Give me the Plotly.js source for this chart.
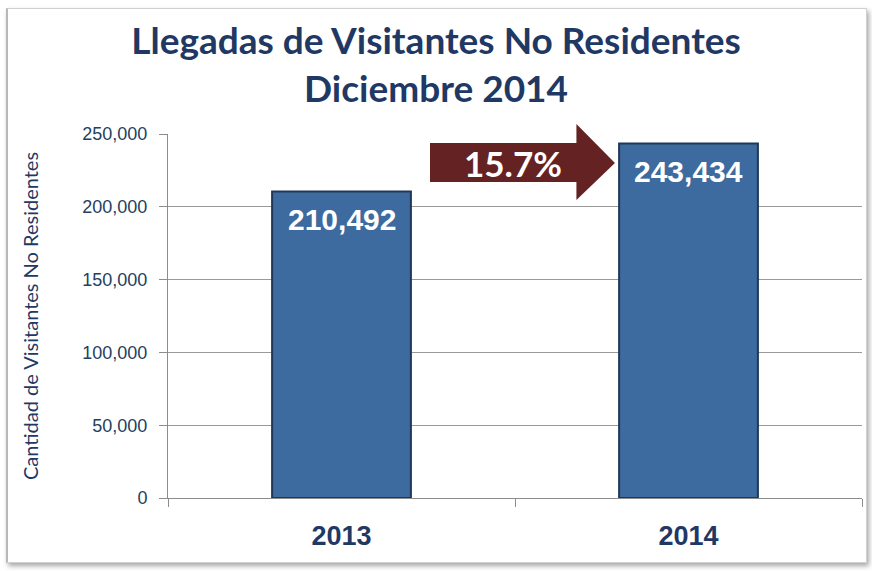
<!DOCTYPE html>
<html>
<head>
<meta charset="utf-8">
<script src="https://cdn.plot.ly/plotly-3.0.1.min.js"></script>
<style>
  html, body { margin: 0; padding: 0; background: #ffffff; }
  #wrap { position: relative; width: 872px; height: 571px; overflow: hidden; }
  #frame { position: absolute; left: 6px; top: 8px; width: 858px; height: 553px;
           border: 1px solid #d0d0d0; border-left: 2px solid #b8b8b8;
           box-shadow: 2px 3px 5px rgba(0,0,0,0.35); background: #fff; }
  #chart { position: absolute; left: 0; top: 0; width: 872px; height: 571px; }
</style>
</head>
<body>
<div id="wrap">
  <div id="frame"></div>
  <div id="chart"></div>
</div>
<script>
const years = ["2013", "2014"];
const visitors = [210492, 243434];
const growthLabel = "15.7%";
const yTicks = [0, 50000, 100000, 150000, 200000, 250000];

const navy = "#1f3864";
const barColor = "#3d6a9f";

const trace = {
  type: "bar",
  x: years,
  y: visitors,
  width: 0.4,
  marker: { color: barColor, line: { color: "#1f3858", width: 2 } },
  hoverinfo: "skip"
};

const valueAnnotations = years.map((yr, i) => ({
  x: i, y: visitors[i], xref: "x", yref: "y",
  text: "<b>" + visitors[i].toLocaleString("en-US") + "</b>",
  showarrow: false, yanchor: "middle", yshift: -28,
  font: { family: "Liberation Sans, Arial, sans-serif", size: 30, color: "#ffffff" }
}));

// growth arrow between bars: x in category-axis units, y in paper units
const arrowPath = "M 0.255 0.9753 L 0.677 0.9753 L 0.677 1.0275 L 0.788 0.9203 L 0.677 0.8187 L 0.677 0.8681 L 0.255 0.8681 Z";

const layout = {
  width: 872, height: 571,
  margin: { l: 168, r: 10, t: 134, b: 73 },
  paper_bgcolor: "rgba(0,0,0,0)",
  plot_bgcolor: "rgba(0,0,0,0)",
  showlegend: false,
  title: {
    text: "<b>Llegadas de Visitantes No Residentes<br>Diciembre 2014</b>",
    font: { family: "Lato, 'Open Sans', sans-serif", size: 37, color: navy },
    x: 0.5, xanchor: "center", xref: "container",
    y: 0.906, yanchor: "middle", yref: "container"
  },
  xaxis: {
    type: "category",
    range: [-0.5, 1.5],
    tickson: "boundaries",
    ticks: "outside", ticklen: 8, tickcolor: "#8c8c8c", tickwidth: 1,
    showline: true, linecolor: "#8c8c8c", linewidth: 1,
    showgrid: false,
    tickfont: { family: "'Liberation Sans Narrow', 'Liberation Sans', Arial, sans-serif", size: 27, color: navy, weight: "bold" },
    ticklabelstandoff: 14
  },
  yaxis: {
    range: [0, 250000],
    tickvals: yTicks,
    ticktext: yTicks.map(v => v.toLocaleString("en-US")),
    ticks: "outside", ticklen: 8, tickcolor: "#8c8c8c", tickwidth: 1,
    showline: true, linecolor: "#8c8c8c", linewidth: 1,
    showgrid: true, gridcolor: "#9a9a9a", gridwidth: 1,
    zeroline: false,
    tickfont: { family: "Liberation Sans, Arial, sans-serif", size: 18, color: "#243f60" },
    ticklabelstandoff: 8,
    title: {
      text: "Cantidad de Visitantes No Residentes",
      font: { family: "Lato, 'Open Sans', sans-serif", size: 20, color: navy },
      standoff: 38
    }
  },
  shapes: [{
    type: "path", xref: "x", yref: "paper", path: arrowPath,
    fillcolor: "#642322", line: { width: 0 }, layer: "between"
  }],
  annotations: valueAnnotations.concat([{
    x: 0.493, y: 0.9203, xref: "x", yref: "paper",
    xanchor: "center", yanchor: "middle",
    text: "<b>" + growthLabel + "</b>", showarrow: false,
    font: { family: "Lato, 'Open Sans', sans-serif", size: 35, color: "#ffffff" }
  }])
};

Plotly.newPlot("chart", [trace], layout, { displayModeBar: false, staticPlot: true });
</script>
</body>
</html>
